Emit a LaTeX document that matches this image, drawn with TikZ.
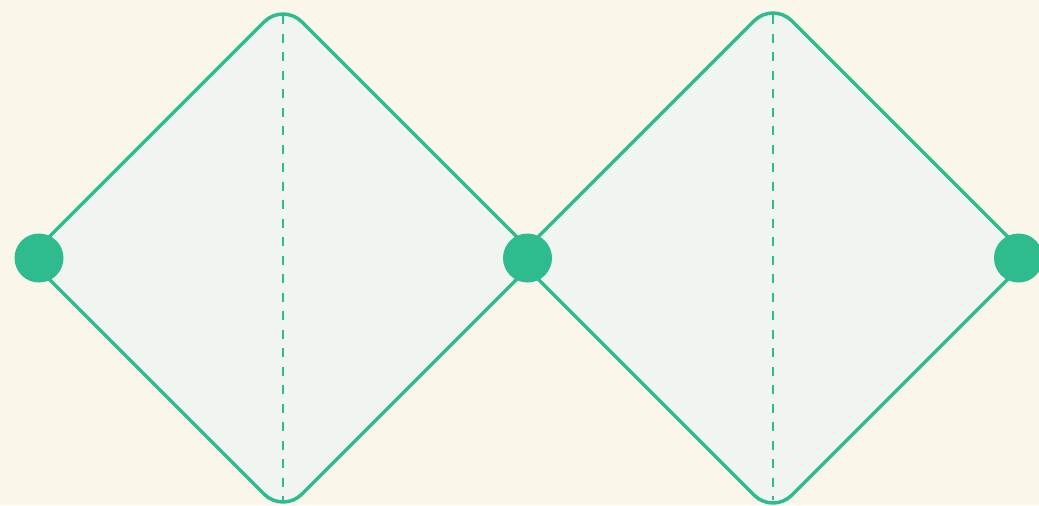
\documentclass[tikz,border=0pt]{standalone}
\usepackage{xcolor}
\usetikzlibrary{positioning,calc}
\definecolor{jade}{HTML}{2EBB8E}
\definecolor{paleface}{HTML}{F0F5F1}
\definecolor{cream}{HTML}{FAF7EA}
\tikzset{
  lobe/.style     ={draw=jade,fill=paleface,line width=1.75pt,rounded corners=13.3pt,
                    line join=round},
  midline/.style  ={draw=jade,line width=1pt,dash pattern=on 4.5pt off 4.75pt},
  joint/.style    ={circle,fill=jade,inner sep=0pt,minimum size=24.5pt},
}
\begin{document}
\begin{tikzpicture}[x=0.5pt,y=-0.5pt]

% page and clip
\fill[cream] (0,0) rectangle (1039,505);
\useasboundingbox (0,0) rectangle (1039,505);
\clip (0,0) rectangle (1039,505);

% left lobe
\draw[lobe] (28,258) -- (283,3) -- (538,258) -- (283,513) -- cycle;
\coordinate (ltop) at (283,15);
\coordinate (lbot) at (283,500);
\draw[midline] (ltop) -- (lbot);

% right lobe
\draw[lobe] (517,258) -- (773,2) -- (1029,258) -- (773,514) -- cycle;
\coordinate (rtop) at (773,15);
\coordinate (rbot) at (773,500);
\draw[midline] (rtop) -- (rbot);

% joints
\node[joint] (jl) at (39,258) {};
\node[joint] (jm) at (527.5,258) {};
\node[joint] (jr) at (1018.5,258) {};

\end{tikzpicture}
\end{document}
